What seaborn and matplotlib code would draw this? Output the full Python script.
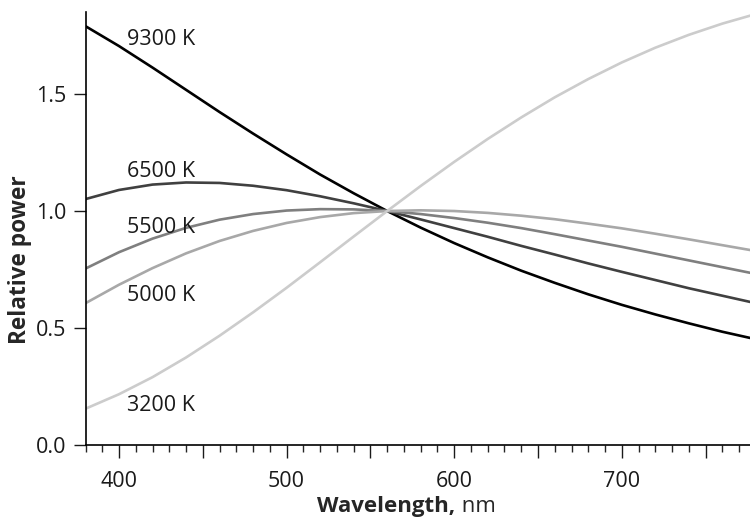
import pandas as pd
import seaborn as sns
import matplotlib.pyplot as plt
from matplotlib.ticker import MultipleLocator, FuncFormatter


# relative spectral power, normalised at 560 nm
wavelength = [380, 400, 420, 440, 460, 480, 500, 520, 540, 560, 580,
              600, 620, 640, 660, 680, 700, 720, 740, 760, 780]
power_9300 = [1.790, 1.705, 1.613, 1.518, 1.423, 1.331, 1.242, 1.156,
              1.076, 1.000, 0.929, 0.863, 0.802, 0.745, 0.693, 0.644,
              0.599, 0.558, 0.520, 0.484, 0.452]
power_6500 = [1.051, 1.090, 1.113, 1.122, 1.120, 1.108, 1.089, 1.063,
              1.033, 1.000, 0.964, 0.927, 0.890, 0.851, 0.814, 0.776,
              0.740, 0.705, 0.670, 0.638, 0.606]
power_5500 = [0.754, 0.824, 0.882, 0.928, 0.963, 0.987, 1.002, 1.008,
              1.007, 1.000, 0.987, 0.970, 0.950, 0.927, 0.901, 0.874,
              0.847, 0.818, 0.789, 0.760, 0.731]
power_5000 = [0.606, 0.685, 0.756, 0.819, 0.872, 0.915, 0.949, 0.974,
              0.991, 1.000, 1.003, 1.000, 0.992, 0.980, 0.965, 0.946,
              0.926, 0.903, 0.879, 0.854, 0.829]
power_3200 = [0.155, 0.217, 0.290, 0.374, 0.467, 0.567, 0.672, 0.781,
              0.891, 1.000, 1.107, 1.210, 1.308, 1.400, 1.486, 1.564,
              1.635, 1.698, 1.753, 1.801, 1.842]

series_names = ['9300 K', '6500 K', '5500 K', '5000 K', '3200 K']
series_values = [power_9300, power_6500, power_5500, power_5000, power_3200]
line_colors = ['#000000', '#404040', '#7f7f7f', '#a8a8a8', '#cccccc']
# label anchors (wavelength, power) next to the left end of each curve
label_pos = [(405, 1.735), (405, 1.171), (405, 0.929), (405, 0.637),
             (405, 0.167)]


def main():
    sns.set_style('ticks')
    plt.rcParams['font.family'] = ['Open Sans', 'DejaVu Sans']

    df = pd.DataFrame([
        {'wavelength': w, 'power': p, 'temp': name}
        for name, vals in zip(series_names, series_values)
        for w, p in zip(wavelength, vals)])

    fig = plt.figure(figsize=(7.5, 5.19), dpi=100)
    ax = fig.add_axes([0.114, 0.1426, 0.886, 0.834])
    sns.lineplot(data=df, x='wavelength', y='power', hue='temp',
                 hue_order=series_names,
                 palette=dict(zip(series_names, line_colors)),
                 linewidth=1.9, legend=False, ax=ax)

    for name, (lx, ly) in zip(series_names, label_pos):
        ax.text(lx, ly, name, fontsize=15.5, ha='left', va='center',
                color='#1a1a1a')

    ax.set_xlim(380, 776.5)
    ax.set_ylim(0, 1.85)
    # long ticks every 50 nm, labels every 100 nm, short ticks every 10 nm
    ax.xaxis.set_major_locator(MultipleLocator(50))
    ax.xaxis.set_major_formatter(FuncFormatter(
        lambda v, pos: '{:.0f}'.format(v) if round(v) % 100 == 0 else ''))
    ax.xaxis.set_minor_locator(MultipleLocator(10))
    ax.yaxis.set_major_locator(MultipleLocator(0.5))
    ax.yaxis.set_major_formatter(plt.FormatStrFormatter('%.1f'))
    ax.tick_params(axis='both', labelsize=15.5, colors='#1a1a1a',
                   width=1.0, length=9)
    ax.tick_params(axis='x', pad=10)
    ax.tick_params(axis='y', pad=5)
    ax.tick_params(axis='x', which='minor', length=5, width=1.0)

    ax.set_xlabel('')
    ax.set_ylabel('')
    fig.text(0.027, 0.499, 'Relative power', fontsize=16.3,
             fontweight='bold', rotation=90, ha='center', va='center')
    t1 = fig.text(0.423, 0.003, 'Wavelength,', fontsize=16,
                  fontweight='bold', ha='left', va='bottom')
    ax.annotate(' nm', xy=(1, 0), xycoords=t1, fontsize=16,
                ha='left', va='bottom')

    for side in ['left', 'bottom']:
        ax.spines[side].set_linewidth(1.2)
        ax.spines[side].set_color('#000000')
    sns.despine(ax=ax)

    fig.savefig('out.png', dpi=100)
    plt.close(fig)


if __name__ == '__main__':
    main()
